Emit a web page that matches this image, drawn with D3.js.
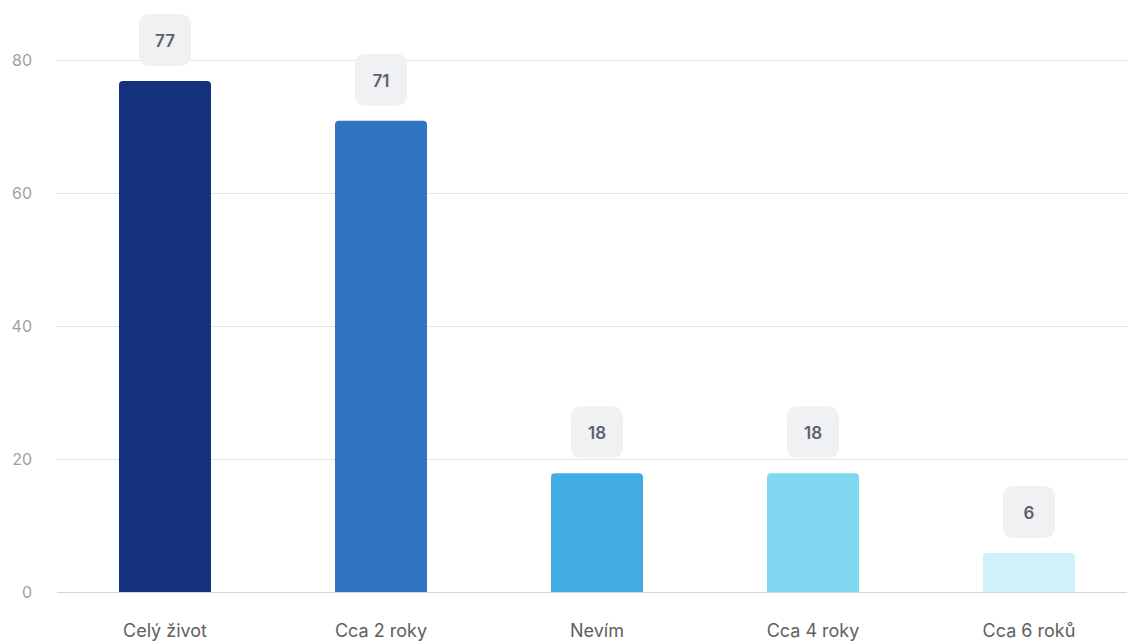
<!DOCTYPE html>
<html><head><meta charset="utf-8">
<script src="https://cdn.jsdelivr.net/npm/d3@7"></script>
<style>html,body{margin:0;padding:0;background:#fff;}svg{display:block;font-family:Inter,"Noto Sans",sans-serif;}</style>
</head><body>
<svg id="c" width="1127" height="642"></svg>
<script>
const categories = ["Celý život", "Cca 2 roky", "Nevím", "Cca 4 roky", "Cca 6 roků"];
const values = [77, 71, 18, 18, 6];
const colors = ["#14317d", "#3074c2", "#42ade5", "#80d8f1", "#cff1fa"];
const yTicks = [0, 20, 40, 60, 80];

(function () {
const svg = d3.select("#c");
const mLeft = 57, mRight = 1137, mTop = 60, mBottom = 592;
const x = d3.scaleBand().domain(categories).range([mLeft, mRight]).padding(0);
const y = d3.scaleLinear().domain([0, 80]).range([mBottom, mTop]);
const barW = x.bandwidth() * 0.426;

// grid
svg.append("g").selectAll("line").data(yTicks.filter(d => d > 0)).join("line")
  .attr("x1", mLeft).attr("x2", 1127)
  .attr("y1", d => y(d) + 0.5).attr("y2", d => y(d) + 0.5)
  .attr("stroke", "#e4e6ea").attr("stroke-width", 1);

// y labels
svg.append("g").selectAll("text").data(yTicks).join("text")
  .attr("x", 32).attr("y", d => y(d)).attr("dy", "0.35em")
  .attr("text-anchor", "end").attr("fill", "#a0a0a0").attr("font-size", 16)
  .text(d => d);

// bars with rounded top
const r = 4;
svg.append("g").selectAll("path").data(values).join("path")
  .attr("fill", (d, i) => colors[i])
  .attr("d", (d, i) => {
    const cx = x(categories[i]) + x.bandwidth() / 2;
    const x0 = cx - barW / 2, x1 = cx + barW / 2;
    const yt = y(d) + 1, yb = y(0);
    return `M${x0},${yb}V${yt + r}Q${x0},${yt} ${x0 + r},${yt}H${x1 - r}Q${x1},${yt} ${x1},${yt + r}V${yb}Z`;
  });

// baseline
svg.append("line").attr("x1", mLeft).attr("x2", 1127)
  .attr("y1", y(0) + 0.5).attr("y2", y(0) + 0.5)
  .attr("stroke", "#cbd5ee").attr("stroke-width", 1);

// value labels
const lg = svg.append("g").selectAll("g").data(values).join("g")
  .attr("transform", (d, i) => `translate(${x(categories[i]) + x.bandwidth() / 2},${y(d) - 40})`);
lg.append("rect").attr("x", -26).attr("y", -26).attr("width", 52).attr("height", 52)
  .attr("rx", 10).attr("fill", "#f0f1f2");
lg.append("text").attr("text-anchor", "middle").attr("dy", "0.35em").attr("y", 1)
  .attr("font-size", 17).attr("font-weight", 600).attr("fill", "#5d6070")
  .text(d => d);

// x labels
svg.append("g").selectAll("text").data(categories).join("text")
  .attr("x", d => x(d) + x.bandwidth() / 2).attr("y", 631).attr("dy", "0.35em")
  .attr("text-anchor", "middle").attr("fill", "#606060").attr("font-size", 18)
  .text(d => d);
})();
</script>
</body></html>
